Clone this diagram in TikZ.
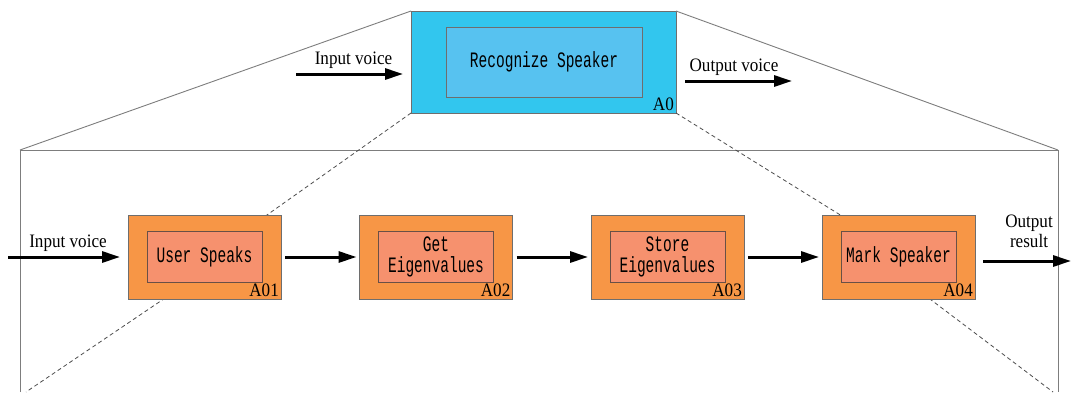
\documentclass[tikz,border=0pt]{standalone}
\usepackage{fontspec}
\setmainfont{Liberation Serif}[FakeStretch=0.9]
\newfontfamily\boxfont[FakeStretch=0.66]{Liberation Mono}
\usetikzlibrary{arrows.meta}

\definecolor{cyanout}{RGB}{50,198,238}
\definecolor{cyanin}{RGB}{87,194,240}
\definecolor{orangeout}{RGB}{247,150,70}
\definecolor{orangein}{RGB}{246,145,110}
\definecolor{boxline}{RGB}{110,110,110}
\definecolor{innerline}{RGB}{105,80,70}
\definecolor{frameline}{RGB}{125,125,125}

\tikzset{
  topouter/.style={draw=boxline, fill=cyanout, minimum width=265pt, minimum height=102pt, inner sep=0pt, outer sep=0pt},
  topinner/.style={draw=boxline, fill=cyanin, minimum width=196pt, minimum height=70pt, inner sep=0pt,
    font=\boxfont\fontsize{22}{21}\selectfont},
  procouter/.style={draw=boxline, fill=orangeout, minimum width=153pt, minimum height=84pt, inner sep=0pt, outer sep=0pt},
  procinner/.style={draw=innerline, fill=orangein, minimum width=115pt, minimum height=51pt, inner sep=0pt,
    align=center, font=\boxfont\fontsize{22}{21}\selectfont},
  tag/.style={anchor=south east, inner sep=2pt, font=\fontsize{19}{20}\selectfont},
  lbl/.style={anchor=base, yshift=10pt, inner sep=0pt, font=\fontsize{19}{20}\selectfont},
  frame/.style={draw=frameline, line width=0.9pt},
  zoomline/.style={draw=black!70, line width=0.8pt, dash pattern=on 4pt off 3pt},
  flow/.style={line width=3pt, -{Triangle[length=18pt,width=11pt]}}
}

\begin{document}
\begin{tikzpicture}[x=1pt, y=-1pt]
\useasboundingbox (0,0) rectangle (1071,392);

\coordinate (fl) at (20,150);
\coordinate (fr) at (1058,150);
\coordinate (flb) at (20,392);
\coordinate (frb) at (1058,392);

\node[topouter] (A0) at (543.5,62) {};
\draw[frame] (flb) -- (fl) -- (fr) -- (frb);
\draw[frame] (A0.north west) -- (fl);
\draw[frame] (A0.north east) -- (fr);

\coordinate (dl1) at (250,227);
\coordinate (dl2) at (177,290);
\coordinate (dl3) at (26,392);
\coordinate (dr1) at (850,221);
\coordinate (dr2) at (918,290);
\coordinate (dr3) at (1053,392);
\draw[zoomline] (A0.south west) -- (dl1);
\draw[zoomline] (dl2) -- (dl3);
\draw[zoomline] (A0.south east) -- (dr1);
\draw[zoomline] (dr2) -- (dr3);

\node[topinner] (A0in) at (544,62) {Recognize Speaker};
\node[tag] at (A0.south east) {A0};

\node[procouter] (A01) at (204.5,257) {};
\node[procinner] (A01in) at (A01) {User Speaks};
\node[tag] at (A01.south east) {A01};

\node[procouter] (A02) at (436,257) {};
\node[procinner] (A02in) at (A02) {Get\\Eigenvalues};
\node[tag] at (A02.south east) {A02};

\node[procouter] (A03) at (667.5,257) {};
\node[procinner] (A03in) at (A03) {Store\\Eigenvalues};
\node[tag] at (A03.south east) {A03};

\node[procouter] (A04) at (898.5,257) {};
\node[procinner] (A04in) at (A04) {Mark Speaker};
\node[tag] at (A04.south east) {A04};

\coordinate (tin) at (296,74);
\coordinate (tout) at (792,81);
\coordinate (vin) at (8,257);
\coordinate (rout) at (1071,261);

\draw[flow, shorten >=8pt] (tin) -- node[lbl] {Input voice} (tin -| A0.west);
\draw[flow, shorten <=9pt] (tout -| A0.east) -- node[lbl] {Output voice} (tout);

\draw[flow, shorten >=8pt] (vin) -- node[lbl] {Input voice} (A01);
\draw[flow, shorten <=4pt, shorten >=3pt] (A01) -- (A02);
\draw[flow, shorten <=4pt, shorten >=3pt] (A02) -- (A03);
\draw[flow, shorten <=4pt, shorten >=3pt] (A03) -- (A04);
\draw[flow, shorten <=8pt] (rout -| A04.east) -- node[anchor=south, yshift=12pt, xshift=6pt, inner sep=0pt, align=center,
  font=\fontsize{19}{20}\selectfont] {Output\\result} (rout);
\end{tikzpicture}
\end{document}
